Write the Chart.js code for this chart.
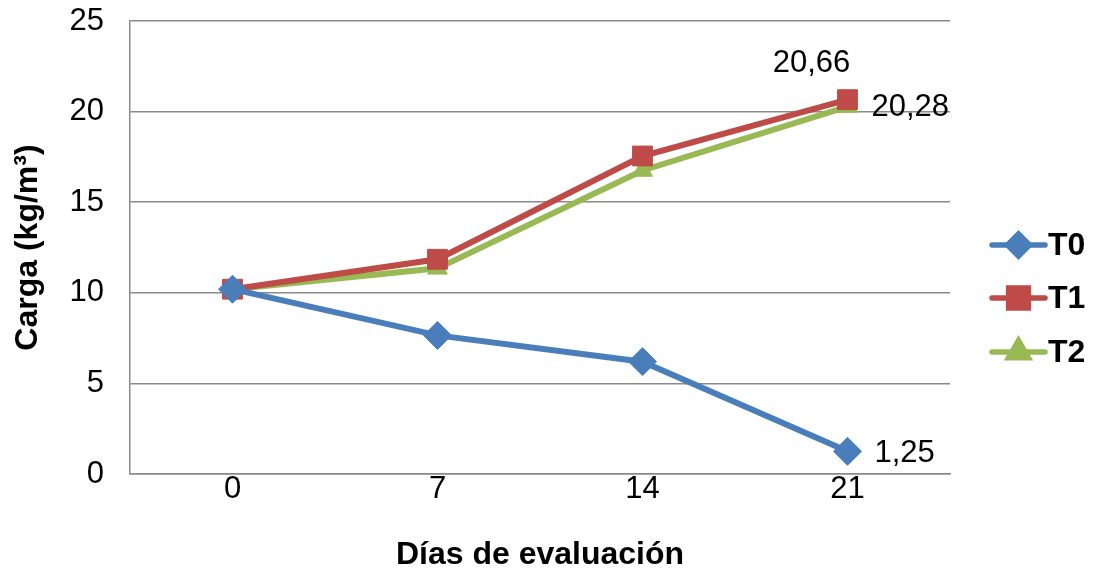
<!DOCTYPE html>
<html>
<head>
<meta charset="utf-8">
<script src="https://cdn.jsdelivr.net/npm/chart.js@4.4.1/dist/chart.umd.min.js"></script>
<style>
  html, body { margin: 0; padding: 0; background: #ffffff; }
  #wrap { width: 1095px; height: 571px; }
</style>
</head>
<body>
<div id="wrap"><canvas id="c" width="1095" height="571"></canvas></div>
<script>
// Días de evaluación y carga (kg/m³) por tratamiento
const dias = ['0', '7', '14', '21'];
const t0 = [10.2, 7.65, 6.2, 1.25];
const t1 = [10.2, 11.85, 17.55, 20.66];
const t2 = [10.2, 11.35, 16.75, 20.28];
const yTicks = [0, 5, 10, 15, 20, 25];

const FONT = "'Liberation Sans', Arial, sans-serif";
const GRID = '#8a8a8a';

// value labels shown next to the final point of each series
const finalLabels = [
  { ds: 0, text: '1,25', dx: 27, dy: 2, align: 'left' },
  { ds: 1, text: '20,66', dx: -36, dy: -36, align: 'center' },
  { ds: 2, text: '20,28', dx: 24, dy: 1, align: 'left' }
];

const labelPlugin = {
  id: 'finalLabels',
  afterDatasetsDraw(chart) {
    const ctx = chart.ctx;
    ctx.save();
    ctx.font = '31px ' + FONT;
    ctx.fillStyle = '#000000';
    ctx.textBaseline = 'middle';
    finalLabels.forEach(l => {
      const meta = chart.getDatasetMeta(l.ds);
      const pt = meta.data[meta.data.length - 1];
      ctx.textAlign = l.align;
      ctx.fillText(l.text, pt.x + l.dx, pt.y + l.dy);
    });
    ctx.restore();
  }
};

// legend on the right: line segment with marker, bold series name
const legendPlugin = {
  id: 'sideLegend',
  afterDraw(chart) {
    const ctx = chart.ctx;
    const area = chart.chartArea;
    const x0 = area.right + 42, x1 = area.right + 95;
    const ys = [245, 298, 352];
    const radii = [11, 14, 11.5];
    ctx.save();
    chart.data.datasets.forEach((ds, i) => {
      const y = ys[i];
      ctx.strokeStyle = ds.borderColor;
      ctx.lineWidth = 5.5;
      ctx.lineCap = 'round';
      ctx.beginPath();
      ctx.moveTo(x0, y);
      ctx.lineTo(x1, y);
      ctx.stroke();
      ctx.fillStyle = ds.pointBackgroundColor;
      ctx.strokeStyle = ds.pointBorderColor;
      Chart.helpers.drawPoint(ctx, {
        pointStyle: ds.pointStyle, radius: radii[i], rotation: 0, borderWidth: 1
      }, (x0 + x1) / 2, y);
      ctx.fillStyle = '#000000';
      ctx.font = 'bold 32px ' + FONT;
      ctx.textAlign = 'left';
      ctx.textBaseline = 'middle';
      ctx.fillText(ds.label, x1 + 3, y + 1);
    });
    ctx.restore();
  }
};

function series(label, data, color, style, radius) {
  return {
    label, data,
    borderColor: color,
    backgroundColor: color,
    pointBackgroundColor: color,
    pointBorderColor: color,
    pointStyle: style,
    pointRadius: radius,
    pointHoverRadius: radius,
    pointBorderWidth: 1,
    borderWidth: 6,
    tension: 0,
    fill: false
  };
}

new Chart(document.getElementById('c'), {
  type: 'line',
  data: {
    labels: dias,
    datasets: [
      series('T0', t0, '#4a7ebb', 'rectRot', 14),
      series('T1', t1, '#be4b48', 'rect', 14),
      series('T2', t2, '#98b954', 'triangle', 11.5)
    ]
  },
  options: {
    responsive: false,
    animation: false,
    devicePixelRatio: 1,
    layout: { padding: { left: 0, right: 145, top: 21, bottom: 0 } },
    plugins: {
      legend: { display: false },
      tooltip: { enabled: false },
      title: { display: false }
    },
    scales: {
      x: {
        type: 'category',
        offset: true,
        grid: { display: true, drawOnChartArea: false, drawTicks: false },
        border: { display: true, color: GRID, width: 1.5 },
        ticks: {
          color: '#000000',
          font: { family: FONT, size: 31, lineHeight: 1 },
          padding: 0
        },
        title: {
          display: true,
          text: 'Días de evaluación',
          color: '#000000',
          font: { family: FONT, size: 32, weight: 'bold', lineHeight: 1 },
          padding: { top: 0, bottom: 0 }
        },
        afterFit(scale) {
          scale.height = 97;
          scale.paddingLeft = 0;
          scale.paddingRight = 0;
        }
      },
      y: {
        min: 0,
        max: 25,
        afterBuildTicks(scale) { scale.ticks = yTicks.map(v => ({ value: v })); },
        grid: { color: GRID, lineWidth: 1.5, drawTicks: false },
        border: { display: true, color: GRID, width: 1.5 },
        ticks: {
          color: '#000000',
          font: { family: FONT, size: 31 },
          padding: 26
        },
        title: {
          display: true,
          text: 'Carga (kg/m³)',
          color: '#000000',
          font: { family: FONT, size: 32, weight: 'bold', lineHeight: 1 },
          padding: { top: 12, bottom: 0 }
        },
        afterFit(scale) {
          scale.width = 130;
          scale.paddingTop = 0;
          scale.paddingBottom = 0;
        }
      }
    }
  },
  plugins: [labelPlugin, legendPlugin]
});
</script>
</body>
</html>
